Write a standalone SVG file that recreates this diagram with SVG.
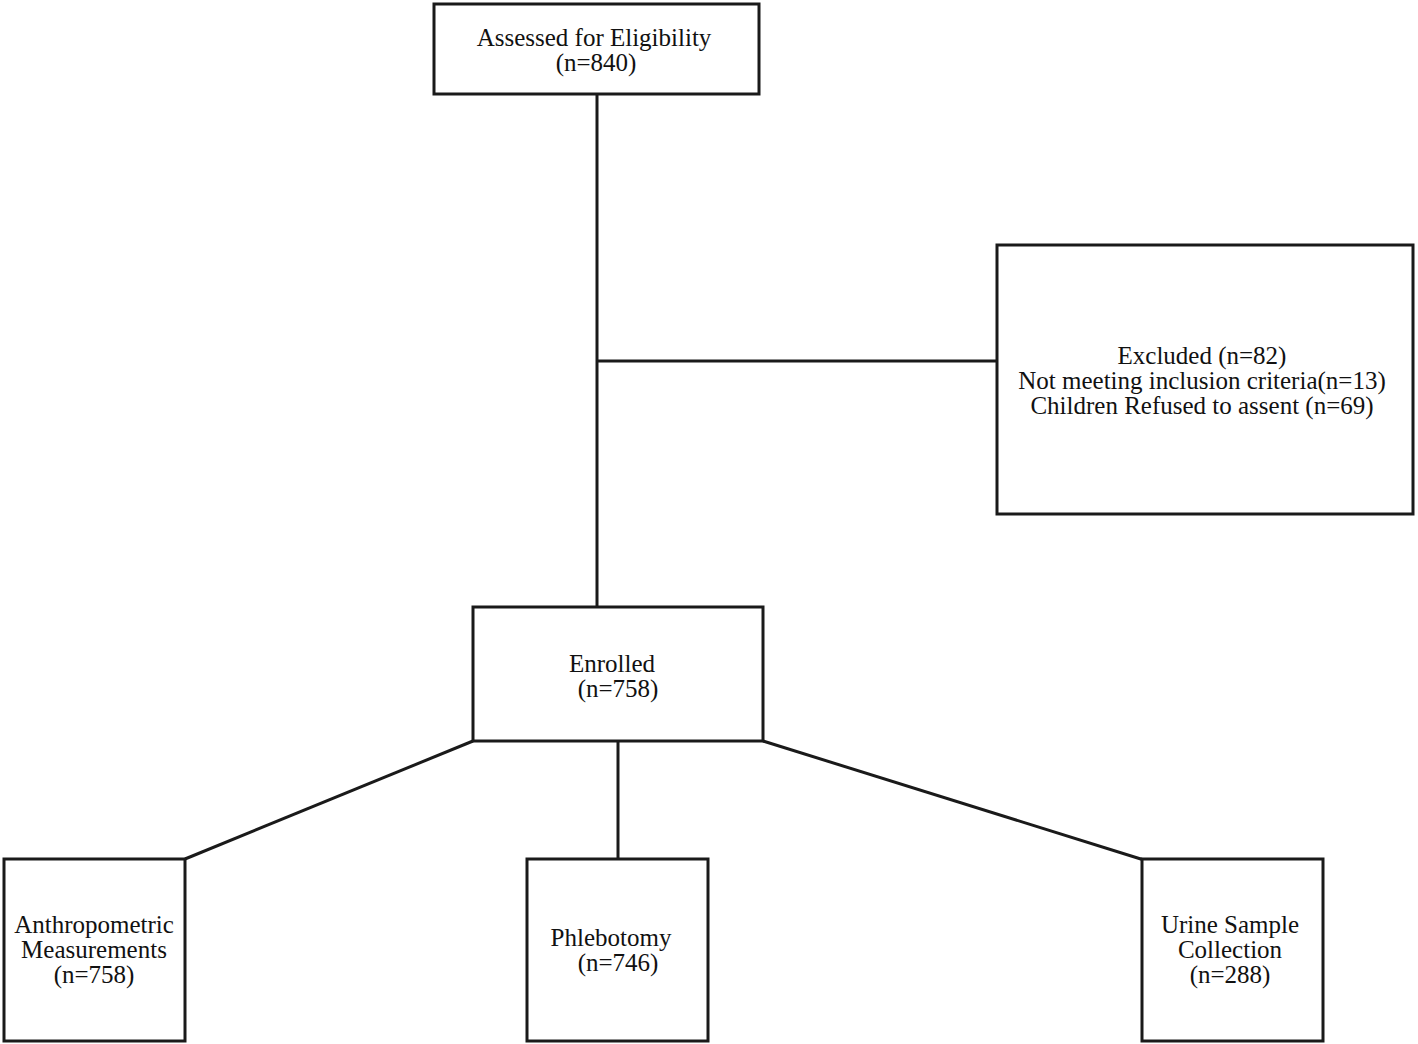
<svg xmlns="http://www.w3.org/2000/svg" width="1418" height="1044" viewBox="0 0 1418 1044">
<style>
.box{fill:#fff;stroke:#1a1a1a;stroke-width:3}
.ln{stroke:#1a1a1a;stroke-width:3;fill:none}
text{font-family:"Liberation Serif","Times New Roman",serif;font-size:25px;fill:#111;text-anchor:middle}
</style>
<rect width="1418" height="1044" fill="#fff"/>
<g id="connectors">
<line class="ln" x1="597" y1="94" x2="597" y2="607"/>
<line class="ln" x1="597" y1="361" x2="998" y2="361"/>
<line class="ln" x1="618" y1="741" x2="618" y2="859"/>
<line class="ln" x1="185" y1="859" x2="473" y2="741"/>
<line class="ln" x1="763" y1="741" x2="1144" y2="860"/>
</g>
<g id="assessed">
<rect class="box" x="434" y="4" width="325" height="90"/>
<text x="594" y="46">Assessed for Eligibility</text>
<text x="596" y="71">(n=840)</text>
</g>
<g id="excluded">
<rect class="box" x="997" y="245" width="416" height="269"/>
<text x="1202" y="364">Excluded (n=82)</text>
<text x="1202" y="389">Not meeting inclusion criteria(n=13)</text>
<text x="1202" y="414">Children Refused to assent (n=69)</text>
</g>
<g id="enrolled">
<rect class="box" x="473" y="607" width="290" height="134"/>
<text x="612" y="672">Enrolled</text>
<text x="618" y="697">(n=758)</text>
</g>
<g id="anthropometric">
<rect class="box" x="4" y="859" width="181" height="182"/>
<text x="94" y="933">Anthropometric</text>
<text x="94" y="958">Measurements</text>
<text x="94" y="983">(n=758)</text>
</g>
<g id="phlebotomy">
<rect class="box" x="527" y="859" width="181" height="182"/>
<text x="611" y="946">Phlebotomy</text>
<text x="618" y="971">(n=746)</text>
</g>
<g id="urine">
<rect class="box" x="1142" y="859" width="181" height="182"/>
<text x="1230" y="933">Urine Sample</text>
<text x="1230" y="958">Collection</text>
<text x="1230" y="983">(n=288)</text>
</g>
</svg>
